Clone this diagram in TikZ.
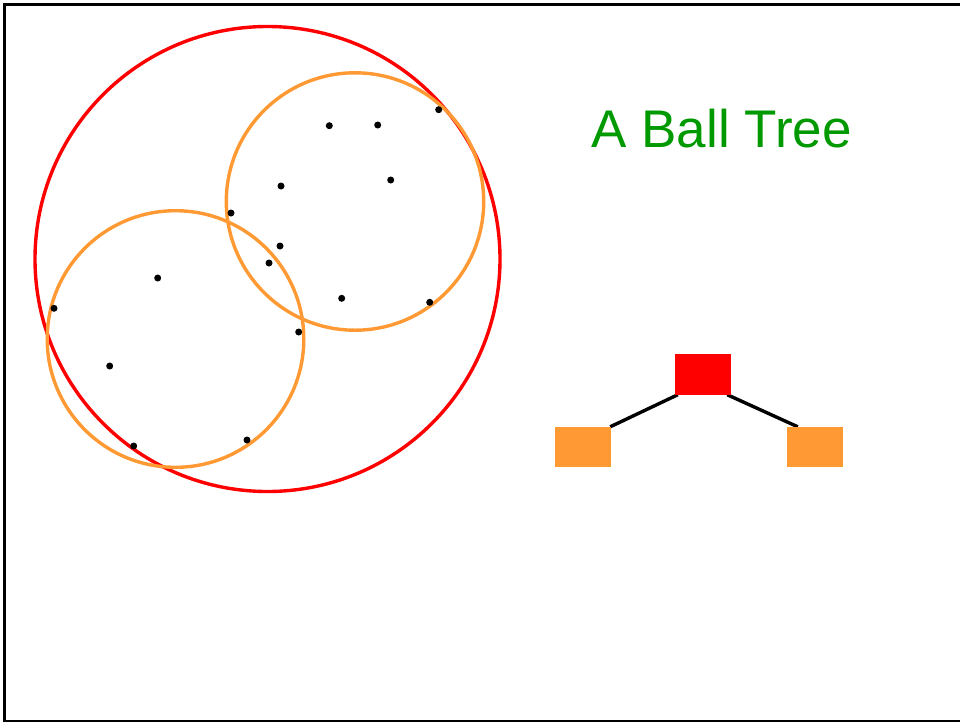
\documentclass[tikz,border=0pt]{standalone}
\usepackage{fontspec}
\setmainfont{Liberation Sans}
\definecolor{ballred}{RGB}{255,0,0}
\definecolor{ballorange}{RGB}{255,153,51}
\definecolor{titlegreen}{RGB}{0,153,0}
\begin{document}
\begin{tikzpicture}[x=1pt,y=-1pt,
  ball/.style={line width=3.4pt},
  pt/.style={fill=black,circle,inner sep=0pt,minimum size=7pt},
  treebox/.style={rectangle,inner sep=0pt,minimum width=56pt,minimum height=40pt},
  edge/.style={line width=3.4pt,black}]
\useasboundingbox (0,0) rectangle (960,721);
\begin{scope}
\clip (0,0) rectangle (960,721);
\draw[line width=3.4pt] (4.5,4.5) rectangle (965,722);
\end{scope}
% balls
\draw[ball,ballred] (267.5,259) circle (232.5);
\draw[ball,ballorange] (175.5,339) circle (128.3);
\draw[ball,ballorange] (355,201.5) circle (128.7);
% points
\foreach \i/\x/\y in {1/157.7/278,2/54/308.3,3/109.7/366,4/133.7/446,5/247/440,6/298.7/332,7/231/213,8/269/263,9/280/246,10/281/186,11/329.3/125.7,12/377.7/125,13/438.7/109.7,14/390.7/180,15/341.7/298.3,16/429.7/302.3}
  \node[pt] (p\i) at (\x,\y) {};
% title
\node[anchor=base,text=titlegreen,font=\fontsize{53}{60}\selectfont,inner sep=0pt] (title) at (721.7,147.7) {A Ball Tree};
% tree
\node[treebox] (root) at (703,374.5) {};
\node[treebox] (lchild) at (583,447) {};
\node[treebox] (rchild) at (815,447) {};
\draw[edge] ([xshift=3pt]root.south west) -- ([xshift=-1pt]lchild.north east);
\draw[edge] ([xshift=-4pt]root.south east) -- ([xshift=11pt]rchild.north west);
\fill[ballred] (root.south west) rectangle (root.north east);
\fill[ballorange] (lchild.south west) rectangle (lchild.north east);
\fill[ballorange] (rchild.south west) rectangle (rchild.north east);
\end{tikzpicture}
\end{document}
